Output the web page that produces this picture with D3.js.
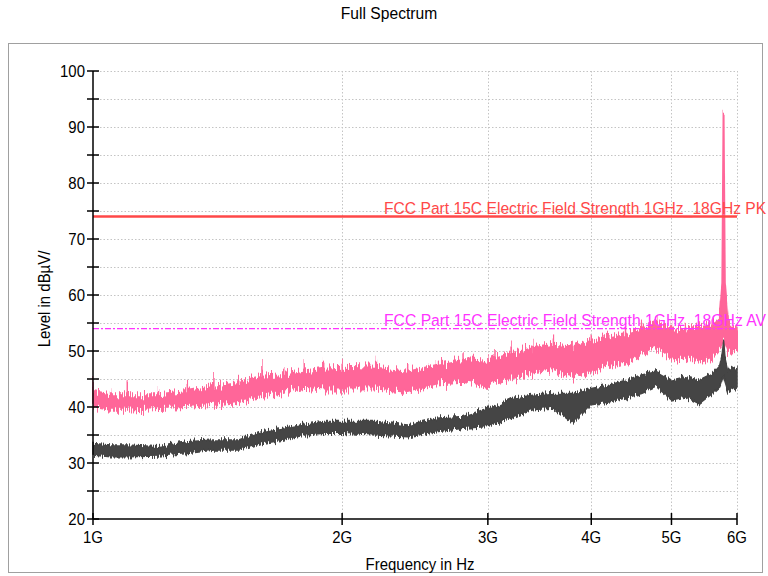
<!DOCTYPE html>
<html><head><meta charset="utf-8">
<script src="https://cdn.jsdelivr.net/npm/d3@7"></script>
<style>
html,body{margin:0;padding:0;background:#fff;}
svg text{font-family:"Liberation Sans",Arial,sans-serif;}
</style></head>
<body>
<svg id="chart" width="768" height="576"></svg>
<script>
// Frequencies in GHz
const freqs = [1.00,1.05,1.10,1.20,1.30,1.40,1.50,1.60,1.70,1.80,1.90,2.00,2.20,2.40,2.60,2.80,3.00,3.06,3.20,3.40,3.60,3.80,4.00,4.20,4.40,4.60,4.80,5.00,5.20,5.40,5.60,5.72,5.76,5.78,5.80,5.85,6.00];
// Peak trace (pink): lower edge, upper edge, spike tops
const pkLow  = [40.0,39.5,39.5,39.8,40.0,40.4,40.9,41.8,42.7,43.6,43.3,43.3,43.3,42.7,44.2,44.5,43.6,44.3,45.1,46.0,46.6,45.4,46.6,47.5,48.1,49.3,50.5,48.4,49.0,48.1,49.0,50.5,51.5,52.0,51.5,50.0,50.2];
const pkHigh = [42.7,42.1,42.1,42.1,42.7,43.6,44.3,45.4,45.7,46.5,47.0,47.2,47.0,46.3,47.5,48.4,48.1,48.6,49.6,50.5,51.1,50.8,52.0,52.6,53.2,54.0,54.9,53.8,54.0,54.4,54.9,56.0,62.0,92.7,62.0,55.2,53.8];
const pkPeak = [44.8,43.0,44.4,43.4,44.3,45.7,45.4,47.5,47.2,48.2,48.1,48.8,48.1,47.5,48.4,49.6,49.3,50.0,51.0,52.0,52.6,52.0,53.2,53.4,54.6,54.9,56.1,55.0,55.2,55.3,56.0,57.0,62.0,92.7,62.0,56.2,54.5];
// Average trace (dark gray): lower edge, upper edge
const avLow  = [31.4,31.1,31.1,31.25,31.7,32.3,32.3,33.5,34.1,35.0,35.3,35.3,35.0,34.7,35.6,36.2,36.5,37.1,38.0,39.5,39.8,37.1,40.4,40.9,41.6,42.4,43.6,41.25,41.8,40.6,42.4,43.6,45.0,45.4,44.5,42.7,43.6];
const avHigh = [33.5,33.2,33.2,32.9,33.8,34.1,34.1,35.6,36.2,36.9,37.4,37.4,37.4,36.8,38.0,38.3,39.8,40.1,41.5,42.1,42.4,42.4,43.3,43.9,44.8,45.7,46.3,44.8,45.4,44.8,46.0,47.5,49.5,51.7,49.0,46.6,47.2];
// Axis ticks
const yMajor = [20,30,40,50,60,70,80,90,100];
const yMinor = [25,35,45,55,65,75,85,95];
const xTicks = [1,2,3,4,5,6];
const xTickLabels = ["1G","2G","3G","4G","5G","6G"];
// Limit lines
const limitValues = [74,54];
const limitLabels = ["FCC Part 15C Electric Field Strength 1GHz_18GHz PK","FCC Part 15C Electric Field Strength 1GHz_18GHz AV"];

const svg = d3.select("#chart");
const L=93,R=737,T=71,B=519;
const x = d3.scaleLog().domain([1,6]).range([L,R]);
const y = d3.scaleLinear().domain([20,100]).range([B,T]);
const SX = 0.88, FS = 17;

function txt(px,py,str,anchor,color,rot,sx){
  return svg.append("text")
    .attr("transform",`translate(${px},${py})${rot?" rotate(-90)":""} scale(${sx||SX},1)`)
    .attr("text-anchor",anchor||"start").attr("font-size",FS).attr("fill",color||"#000").text(str);
}

// noise texture filter (styling only): vertical jitter of band edges
const defs = svg.append("defs");
function noiseFilter(id,freq,scale,seed){
  const f = defs.append("filter").attr("id",id).attr("filterUnits","userSpaceOnUse")
    .attr("x",0).attr("y",0).attr("width",768).attr("height",576);
  f.append("feTurbulence").attr("type","fractalNoise").attr("baseFrequency",freq).attr("numOctaves",2).attr("seed",seed).attr("result","n");
  f.append("feColorMatrix").attr("in","n").attr("type","matrix")
    .attr("values","0 0 0 0 0.5  0 1 0 0 0  0 0 1 0 0  0 0 0 0 1").attr("result","m");
  f.append("feDisplacementMap").attr("in","SourceGraphic").attr("in2","m").attr("scale",scale)
    .attr("xChannelSelector","R").attr("yChannelSelector","G");
}
noiseFilter("noisePk","0.9 0.004",18,3);
noiseFilter("noiseAv","0.9 0.004",10,7);

// frame
svg.append("rect").attr("x",8.5).attr("y",43.5).attr("width",754).attr("height",529)
  .attr("fill","none").attr("stroke","#a0a0a0").attr("stroke-width",1);

// title
txt(389,19,"Full Spectrum","middle",null,false,0.92);

// grid
const grid = svg.append("g").attr("stroke","#c4c4c4").attr("stroke-width",1).attr("stroke-dasharray","1.5,2");
yMajor.concat(yMinor).filter(v=>v>20).forEach(v=>{
  grid.append("line").attr("x1",L).attr("x2",R).attr("y1",Math.round(y(v))+0.5).attr("y2",Math.round(y(v))+0.5);
});
xTicks.filter(v=>v>1).forEach(v=>{
  grid.append("line").attr("x1",Math.round(x(v))+0.5).attr("x2",Math.round(x(v))+0.5).attr("y1",T).attr("y2",B);
});

const data = freqs.map((f,i)=>({f,pl:pkLow[i],ph:pkHigh[i],pp:pkPeak[i],al:avLow[i],ah:avHigh[i]}));

// pink band
const gp = svg.append("g").attr("filter","url(#noisePk)");
const pinkArea = d3.area().x(d=>x(d.f)).y0(d=>y(d.pl)).y1(d=>y(d.ph));
gp.append("path").datum(data).attr("d",pinkArea).attr("fill","#ff6699").attr("stroke","#ff6699").attr("stroke-width",2);
gp.append("g").selectAll("line").data(data).join("line")
  .attr("x1",d=>x(d.f)).attr("x2",d=>x(d.f)).attr("y1",d=>y(d.ph)).attr("y2",d=>y(d.pp))
  .attr("stroke","#ff6699").attr("stroke-width",1.5);

// limit lines
const limColors = ["#ff4848","#ff33ff"];
svg.append("line").attr("x1",L).attr("x2",R).attr("y1",y(limitValues[0])).attr("y2",y(limitValues[0]))
  .attr("stroke",limColors[0]).attr("stroke-width",2.5);
svg.append("line").attr("x1",L).attr("x2",R).attr("y1",y(limitValues[1])).attr("y2",y(limitValues[1]))
  .attr("stroke",limColors[1]).attr("stroke-width",1.4).attr("stroke-dasharray","6,2,2,2");

// gray band
const gg = svg.append("g").attr("filter","url(#noiseAv)");
const grayArea = d3.area().x(d=>x(d.f)).y0(d=>y(d.al)).y1(d=>y(d.ah));
gg.append("path").datum(data).attr("d",grayArea).attr("fill","#444444").attr("stroke","#444444").attr("stroke-width",1.5);

// limit labels (stretched to reference width)
limitLabels.forEach((t,i)=>{
  const el = txt(384,y(limitValues[i])-3,t,"start",limColors[i]);
  const w = el.node().getComputedTextLength();
  el.attr("transform",`translate(384,${y(limitValues[i])-3}) scale(${382/w},1)`);
});

// axes
const ax = svg.append("g").attr("stroke","#000").attr("stroke-width",1.5);
ax.append("line").attr("x1",L).attr("x2",L).attr("y1",T).attr("y2",B);
ax.append("line").attr("x1",L).attr("x2",R).attr("y1",B).attr("y2",B);
yMajor.concat(yMinor).forEach(v=>{
  ax.append("line").attr("x1",L-6).attr("x2",L+6).attr("y1",y(v)).attr("y2",y(v));
});
xTicks.forEach(v=>{
  ax.append("line").attr("x1",x(v)).attr("x2",x(v)).attr("y1",B-6).attr("y2",B+6);
});
yMajor.forEach(v=>{ txt(85,y(v)+6,String(v),"end"); });
xTicks.forEach((v,i)=>{ txt(x(v),543,xTickLabels[i],"middle"); });
txt(420,570,"Frequency in Hz","middle");
txt(50,299,"Level in dBµV/","middle","#000",true);
</script>
</body></html>
